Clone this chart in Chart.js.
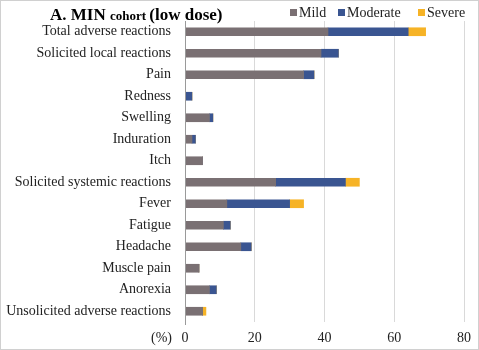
<!DOCTYPE html>
<html>
<head>
<meta charset="utf-8">
<script src="https://cdn.jsdelivr.net/npm/chart.js@4"></script>
<style>
  html, body { margin: 0; padding: 0; background: #fff; }
  #wrap { width: 479px; height: 350px; position: relative; }
</style>
</head>
<body>
<div id="wrap"><canvas id="grafico"></canvas></div>
<script>
// categorias y valores (%)
const categorias = [
  'Total adverse reactions', 'Solicited local reactions', 'Pain', 'Redness', 'Swelling',
  'Induration', 'Itch', 'Solicited systemic reactions', 'Fever', 'Fatigue',
  'Headache', 'Muscle pain', 'Anorexia', 'Unsolicited adverse reactions'
];
const leve     = [41, 39, 34, 0, 7, 2, 5, 26, 12, 11, 16, 4, 7, 5];
const moderado = [23, 5, 3, 2, 1, 1, 0, 20, 18, 2, 3, 0, 2, 0];
const severo   = [5, 0, 0, 0, 0, 0, 0, 4, 4, 0, 0, 0, 0, 1];
const ticksX   = [0, 20, 40, 60, 80];

const colores = { leve: '#7a7073', moderado: '#3a5591', severo: '#f6b326' };
const serif = '"Liberation Serif", "DejaVu Serif", serif';

const encabezado = {
  id: 'encabezado',
  afterDraw(chart) {
    const ctx = chart.ctx;
    ctx.save();
    ctx.textBaseline = 'alphabetic';
    // titulo con dos tamaños
    let x = 50;
    const y = 20;
    ctx.fillStyle = '#000';
    ctx.font = 'bold 17px ' + serif;
    ctx.fillText('A. MIN ', x, y);
    x += ctx.measureText('A. MIN ').width;
    ctx.font = 'bold 13px ' + serif;
    ctx.fillText('cohort ', x, y);
    x += ctx.measureText('cohort ').width;
    ctx.font = 'bold 17px ' + serif;
    ctx.fillText('(low dose)', x, y);

    // leyenda
    const items = [['Mild', colores.leve, 290], ['Moderate', colores.moderado, 338], ['Severe', colores.severo, 418]];
    ctx.font = '14px ' + serif;
    items.forEach(([txt, col, lx]) => {
      ctx.fillStyle = col;
      ctx.fillRect(lx, 9, 7, 7);
      ctx.fillStyle = '#222';
      ctx.fillText(txt, lx + 9, 17);
    });

    // etiqueta (%)
    const xs = chart.scales.x;
    ctx.textAlign = 'right';
    ctx.font = '14px ' + serif;
    ctx.fillStyle = '#222';
    ctx.fillText('(%)', xs.left - 13, 342);

    // eje 0
    ctx.strokeStyle = '#9a9a9a';
    ctx.lineWidth = 1;
    ctx.beginPath();
    ctx.moveTo(Math.round(xs.getPixelForValue(0)) + 0.5, chart.chartArea.top);
    ctx.lineTo(Math.round(xs.getPixelForValue(0)) + 0.5, chart.chartArea.bottom + 3);
    ctx.stroke();

    // marco
    ctx.strokeStyle = '#d0d0d0';
    ctx.strokeRect(0.5, 0.5, chart.width - 1, chart.height - 1);
    ctx.restore();
  }
};

new Chart(document.getElementById('grafico').getContext('2d'), {
  type: 'bar',
  data: {
    labels: categorias,
    datasets: [
      { label: 'Mild', data: leve, backgroundColor: colores.leve },
      { label: 'Moderate', data: moderado, backgroundColor: colores.moderado },
      { label: 'Severe', data: severo, backgroundColor: colores.severo }
    ]
  },
  options: {
    indexAxis: 'y',
    responsive: true,
    maintainAspectRatio: false,
    animation: false,
    layout: { padding: { top: 21, right: 5, bottom: 0, left: 0 } },
    datasets: { bar: { barThickness: 8 } },
    plugins: {
      legend: { display: false },
      tooltip: { enabled: false }
    },
    scales: {
      x: {
        stacked: true,
        min: 0,
        max: 80,
        afterBuildTicks: axis => { axis.ticks = ticksX.map(v => ({ value: v })); },
        afterFit: axis => { axis.height = 28; },
        grid: { color: '#d9d9d9', drawTicks: false },
        border: { display: false },
        ticks: { color: '#222', font: { family: serif, size: 14 }, padding: 8 }
      },
      y: {
        stacked: true,
        afterFit: axis => { axis.width = 185; },
        grid: { display: false },
        border: { display: false },
        ticks: { color: '#222', font: { family: serif, size: 14 }, padding: 6, autoSkip: false }
      }
    }
  },
  plugins: [encabezado]
});
</script>
</body>
</html>
